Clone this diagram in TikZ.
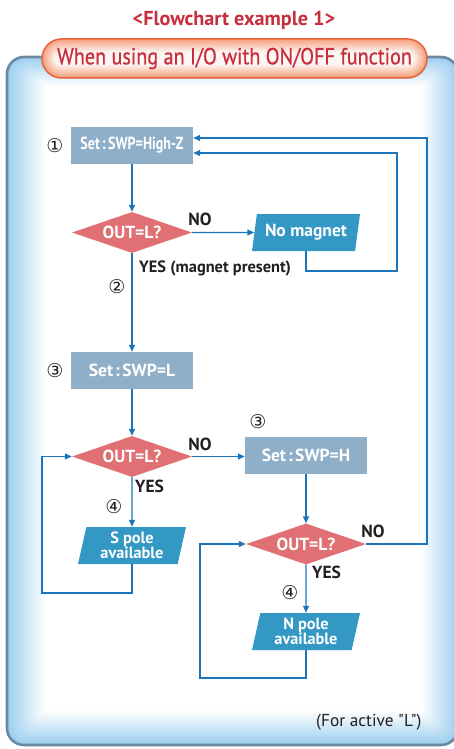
\documentclass[tikz,border=0pt]{standalone}
\usepackage{fontspec}
\setmainfont{PT Sans}[Ligatures=TeXOff]
\newfontfamily\narrowfont{PT Sans}[Ligatures=TeXOff,FakeStretch=0.8]
\newfontfamily\pillfont{PT Sans}[Ligatures=TeXOff,FakeStretch=0.87,FakeBold=0.7]
\newfontfamily\cnumfont{DejaVu Sans}
\usetikzlibrary{shapes.geometric,arrows.meta,calc}
\definecolor{titlered}{HTML}{C62F3E}
\definecolor{pillline}{HTML}{E8633C}
\definecolor{pillfill}{HTML}{F4A07C}
\definecolor{panelline}{HTML}{6B8AA2}
\definecolor{panelblue}{HTML}{9CCFEF}
\definecolor{boxfill}{HTML}{8FAEC8}
\definecolor{diafill}{HTML}{E07074}
\definecolor{parafill}{HTML}{3399C4}
\definecolor{conn}{HTML}{1B75BC}
\definecolor{txt}{HTML}{231F20}
\newcommand\setcolon{{\kern2pt}:{\kern2.5pt}}
\begin{document}
\begin{tikzpicture}[x=1pt,y=-1pt,
  lbl/.style={font=\bfseries\fontsize{17.5}{17.5}\selectfont, text=white, inner sep=0pt},
  setbox/.style={lbl, rectangle, fill=boxfill, minimum width=122pt, minimum height=37pt},
  decide/.style={lbl, diamond, fill=diafill, minimum width=120pt, minimum height=41pt, aspect=3},
  outbox/.style={lbl, trapezium, trapezium left angle=73, trapezium right angle=107,
     trapezium stretches body, fill=parafill, minimum width=108pt, minimum height=37pt},
  twoline/.style={font=\bfseries\fontsize{16.3}{15.5}\selectfont, align=center},
  flow/.style={draw=conn, line width=1.3pt, -{Triangle[length=7pt,width=6pt]}},
  ans/.style={font=\bfseries\fontsize{17.5}{17.5}\selectfont, text=txt, inner sep=0pt},
  cnum/.style={font=\cnumfont\fontsize{19}{19}\selectfont, text=txt, inner sep=0pt},
]
\useasboundingbox (0,0) rectangle (454,749);
\clip (0,0) rectangle (454,749);
\fill[white] (0,0) rectangle (454,749);
% panel with soft blue edges
\foreach \i in {0,...,24}{
  \pgfmathsetmacro\c{max(0,100-4.2*\i)}
  \pgfmathsetmacro\r{max(2,17-0.7*\i)}
  \fill[panelblue!\c!white, rounded corners=\r pt] (7+1.6*\i,57+1.2*\i) rectangle (458-1.5*\i,745-1.4*\i);
}
\draw[panelline, line width=2.6pt, rounded corners=17pt] (7,57) rectangle (458,745);
% title
\node[font=\bfseries\fontsize{20.2}{20.2}\selectfont, text=titlered] (title) at (234,20) {<Flowchart example 1>};
% pill
\foreach \i in {0,...,13}{
  \pgfmathsetmacro\c{max(0,100-7*\i)}
  \pgfmathsetmacro\r{19.5-\i}
  \fill[pillfill!\c!white, rounded corners=\r pt] (42+\i,39+\i) rectangle (427-\i,78-\i);
}
\draw[pillline, line width=1.5pt, rounded corners=19.5pt] (42,39) rectangle (427,78);
\node[font=\pillfont\fontsize{23.2}{23.2}\selectfont, text=titlered] (sub) at (234.5,58.5) {When using an I/O with ON/OFF function};
% nodes
\node[setbox] (s1) at (132,145.5) {{\narrowfont\bfseries Set\setcolon SWP=High-Z}};
\node[decide] (d1) at (132,232.5) {OUT=L?};
\node[outbox] (nm) at (306,232.5) {No magnet};
\node[setbox] (s3) at (132,370.5) {Set\setcolon SWP=L};
\node[decide] (d2) at (132,456.5) {OUT=L?};
\node[setbox] (s4) at (306,455.5) {Set\setcolon SWP=H};
\node[outbox, twoline] (sp) at (132,545.5) {S pole\\available};
\node[decide] (d3) at (306,544) {OUT=L?};
\node[outbox, twoline] (np) at (306,631.5) {N pole\\available};
% connectors
\coordinate (r1) at (397,271);
\coordinate (r2) at (427,138);
\coordinate (l1) at (42,593);
\coordinate (l2) at (200,678);
\draw[flow] (s1.south) -- (d1.north);
\draw[flow] (d1.east) -- (nm.west);
\draw[flow] (nm.south) |- (r1) |- ([yshift=-7.5pt]s1.east);
\draw[flow] (d3.east) -| (r2) -- ([yshift=7.5pt]s1.east);
\draw[flow] (d1.south) -- (s3.north);
\draw[flow] (s3.south) -- (d2.north);
\draw[flow] (d2.east) -- (d2.east -| s4.west);
\draw[flow] (d2.south) -- (sp.north);
\draw[flow] (sp.south) |- (l1) |- (d2.west);
\draw[flow] (s4.south) -- (d3.north);
\draw[flow] (d3.south) -- (np.north);
\draw[flow] (np.south) |- (l2) |- (d3.west);
% answer labels
\node[ans] (no1) at (200,219) {NO};
\node[ans, anchor=west, font=\bfseries\fontsize{16.4}{16.4}\selectfont] (yes1) at (139,268) {YES (magnet present)};
\node[ans] (no2) at (200,444) {NO};
\node[ans, anchor=west] (yes2) at (135,486) {YES};
\node[ans] (no3) at (373,531) {NO};
\node[ans, anchor=west] (yes3) at (312,572) {YES};
% step numbers
\node[cnum] (c1) at (55,146) {①};
\node[cnum] (c2) at (117,287) {②};
\node[cnum] (c3a) at (55,371) {③};
\node[cnum] (c3b) at (258,422) {③};
\node[cnum] (c4a) at (114,507) {④};
\node[cnum] (c4b) at (290,593) {④};
% footnote
\node[font=\fontsize{17.3}{17.3}\selectfont, text=txt, anchor=east] (note) at (425,722) {(For active "L")};
\end{tikzpicture}
\end{document}
